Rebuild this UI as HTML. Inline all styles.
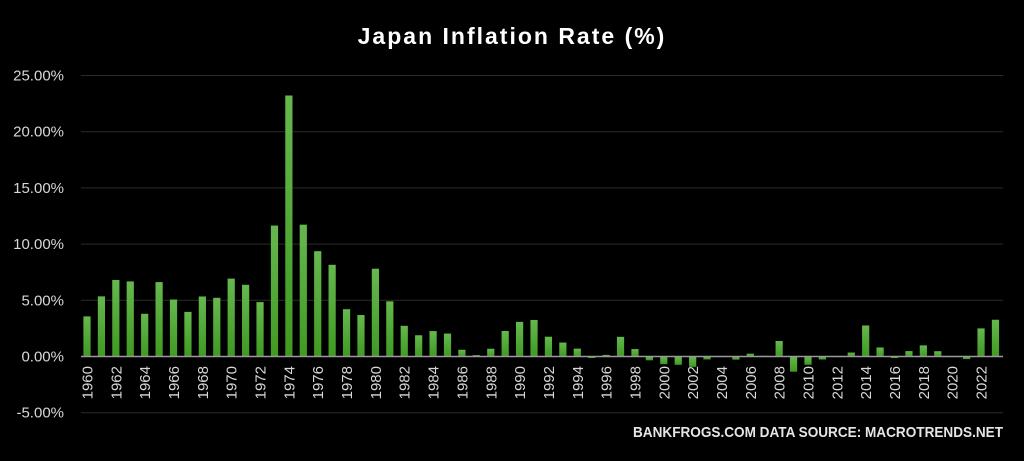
<!DOCTYPE html>
<html><head><meta charset="utf-8"><style>
html,body{margin:0;padding:0;background:#000;}
svg{display:block}
</style></head><body>
<svg id="c" width="1024" height="461" xmlns="http://www.w3.org/2000/svg">
<defs><linearGradient id="g" x1="0" y1="0" x2="0" y2="1"><stop offset="0" stop-color="#66b84e"/><stop offset="1" stop-color="#3f9a22"/></linearGradient></defs>
<rect width="1024" height="461" fill="#000"/>
<text x="512" y="44" fill="#fff" font-family="Liberation Sans, sans-serif" font-size="23" font-weight="bold" text-anchor="middle" letter-spacing="2">Japan Inflation Rate (%)</text>
<g id="grid"></g>
<g id="bars"></g>
<text x="1003" y="437" fill="#e6e6e6" font-family="Liberation Sans, sans-serif" font-size="15" font-weight="bold" text-anchor="end" textLength="370" lengthAdjust="spacingAndGlyphs">BANKFROGS.COM DATA SOURCE: MACROTRENDS.NET</text>
</svg>
<script>
var v=[3.57,5.35,6.81,6.68,3.80,6.62,5.07,3.97,5.34,5.22,6.93,6.38,4.84,11.65,23.22,11.73,9.37,8.16,4.21,3.69,7.81,4.91,2.73,1.89,2.26,2.04,0.60,0.12,0.69,2.27,3.08,3.25,1.76,1.24,0.70,-0.13,0.14,1.75,0.66,-0.34,-0.68,-0.74,-0.92,-0.26,-0.01,-0.28,0.25,0.06,1.38,-1.35,-0.73,-0.27,-0.05,0.35,2.76,0.80,-0.13,0.48,0.99,0.47,-0.02,-0.23,2.50,3.27];
var ns="http://www.w3.org/2000/svg";
function el(t,a,p,txt){var e=document.createElementNS(ns,t);for(var k in a)e.setAttribute(k,a[k]);if(txt!=null)e.textContent=txt;document.getElementById(p).appendChild(e);return e;}
var y0=356.5,s=11.24;
for(var p=-5;p<=25;p+=5){var y=y0-p*s;
 if(p!=0)el("line",{x1:81,x2:1003,y1:y,y2:y,stroke:"#2a2a2a","stroke-width":1},"grid");
 el("text",{x:64,y:y+5,fill:"#d8d8d8","font-family":"Liberation Sans, sans-serif","font-size":15,"text-anchor":"end"},"grid",p.toFixed(2)+"%");}
for(var i=0;i<v.length;i++){var cx=87+i*14.42,h=v[i]*s;
 el("rect",{x:cx-3.6,y:h>=0?y0-h:y0,width:7.2,height:Math.abs(h),fill:"url(#g)"},"bars");
 if(i%2==0)el("text",{x:0,y:0,transform:"translate("+(cx+5.5)+",366) rotate(-90)",fill:"#d8d8d8","font-family":"Liberation Sans, sans-serif","font-size":15,"text-anchor":"end"},"bars",""+(1960+i));}
el("line",{x1:81,x2:1003,y1:y0,y2:y0,stroke:"#9a9a9a","stroke-width":1.5},"bars");
</script>
</body></html>
